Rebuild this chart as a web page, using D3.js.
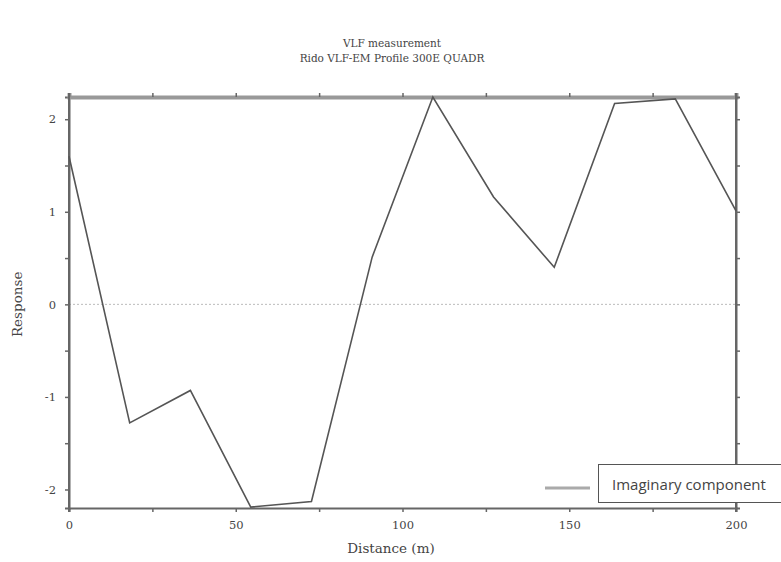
<!DOCTYPE html>
<html>
<head>
<meta charset="utf-8">
<script src="https://cdn.jsdelivr.net/npm/d3@7"></script>
<style>
  body { margin: 0; background: #fff; }
  svg text { font-family: "DejaVu Serif", "Liberation Serif", serif; fill: #444; }
</style>
</head>
<body>
<script>
// profile data (distance in m, response)
var distances = [0, 18.2, 36.4, 54.5, 72.7, 90.9, 109.1, 127.3, 145.5, 163.6, 181.8, 200];
var responses = [1.6, -1.28, -0.93, -2.19, -2.13, 0.51, 2.24, 1.16, 0.40, 2.17, 2.22, 1.01];
var xTicks = [0, 50, 100, 150, 200];
var yTicks = [-2, -1, 0, 1, 2];
var titleLines = ["VLF measurement", "Rido VLF-EM Profile 300E QUADR"];
var seriesName = "Imaginary component";

var W = 781, H = 562;
var margin = { top: 97, right: 45, bottom: 54, left: 69 };
var width = W - margin.left - margin.right,
    height = H - margin.top - margin.bottom;

var x = d3.scaleLinear().domain([0, 200]).range([0, width]);
var y = d3.scaleLinear().domain([-2.2, 2.24]).range([height, 0]);

var svg = d3.select("body").append("svg")
    .attr("width", W)
    .attr("height", H);

var g = svg.append("g")
    .attr("transform", "translate(" + margin.left + "," + margin.top + ")");

// title
svg.selectAll(".title")
    .data(titleLines)
    .enter().append("text")
    .attr("class", "title")
    .attr("x", 392)
    .attr("y", function (d, i) { return 47 + i * 15; })
    .attr("text-anchor", "middle")
    .style("font-size", "10.5px")
    .attr("fill", "#333")
    .text(function (d) { return d; });

// zero line
g.append("line")
    .attr("x1", 0).attr("x2", width)
    .attr("y1", y(0)).attr("y2", y(0))
    .attr("stroke", "#bbb")
    .attr("stroke-dasharray", "2,2");

// axes
var minorX = d3.range(0, 201, 25),
    minorY = d3.range(-2, 2.01, 0.5);

function styleAxis(sel) {
    sel.select(".domain").attr("stroke", "#666").attr("stroke-width", 2);
    sel.selectAll(".tick line").attr("stroke", "#666").attr("stroke-width", 1.5);
    sel.selectAll(".tick text")
        .style("font-family", "DejaVu Serif, serif")
        .style("font-size", "11.5px")
        .attr("fill", "#444");
}

var xAxis = g.append("g")
    .attr("transform", "translate(0," + height + ")")
    .call(d3.axisBottom(x).tickValues(minorX).tickSizeOuter(0).tickSize(4).tickPadding(9)
        .tickFormat(function (d) { return xTicks.indexOf(d) >= 0 ? d : ""; }));
styleAxis(xAxis);

var yAxis = g.append("g")
    .call(d3.axisLeft(y).tickValues(minorY).tickSizeOuter(0).tickSize(4).tickPadding(9)
        .tickFormat(function (d) { return yTicks.indexOf(d) >= 0 ? d : ""; }));
styleAxis(yAxis);

var topAxis = g.append("g")
    .call(d3.axisTop(x).tickValues(minorX).tickSizeOuter(0).tickSize(4).tickFormat(""));
styleAxis(topAxis);
topAxis.select(".domain").attr("stroke", "#999").attr("stroke-width", 4);

var rightAxis = g.append("g")
    .attr("transform", "translate(" + width + ",0)")
    .call(d3.axisRight(y).tickValues(minorY).tickSizeOuter(0).tickSize(4).tickFormat(""));
styleAxis(rightAxis);

// extend left/right axis lines slightly to meet top and bottom
g.append("line").attr("x1", 0).attr("x2", 0).attr("y1", -4).attr("y2", height + 4)
    .attr("stroke", "#666").attr("stroke-width", 2);
g.append("line").attr("x1", width).attr("x2", width).attr("y1", -4).attr("y2", height + 4)
    .attr("stroke", "#666").attr("stroke-width", 2);

// profile line
var line = d3.line()
    .x(function (d, i) { return x(distances[i]); })
    .y(function (d) { return y(d); });

g.append("path")
    .datum(responses)
    .attr("fill", "none")
    .attr("stroke", "#555")
    .attr("stroke-width", 1.6)
    .attr("d", line);

// axis labels
svg.append("text")
    .attr("x", 391)
    .attr("y", 553)
    .attr("text-anchor", "middle")
    .style("font-size", "13.5px")
    .text("Distance (m)");

svg.append("text")
    .attr("transform", "translate(22," + (margin.top + y(0)) + ") rotate(-90)")
    .attr("text-anchor", "middle")
    .style("font-size", "13.5px")
    .text("Response");

// legend
svg.append("line")
    .attr("x1", 545).attr("x2", 590)
    .attr("y1", 488).attr("y2", 488)
    .attr("stroke", "#aaa")
    .attr("stroke-width", 3);

svg.append("rect")
    .attr("x", 598.5).attr("y", 464.5)
    .attr("width", 190).attr("height", 38)
    .attr("fill", "#fff")
    .attr("stroke", "#555")
    .attr("stroke-width", 1);

svg.append("text")
    .attr("x", 612)
    .attr("y", 490)
    .style("font-family", "Open Sans, sans-serif")
    .style("font-size", "15px")
    .attr("fill", "#333")
    .text(seriesName);
</script>
</body>
</html>
